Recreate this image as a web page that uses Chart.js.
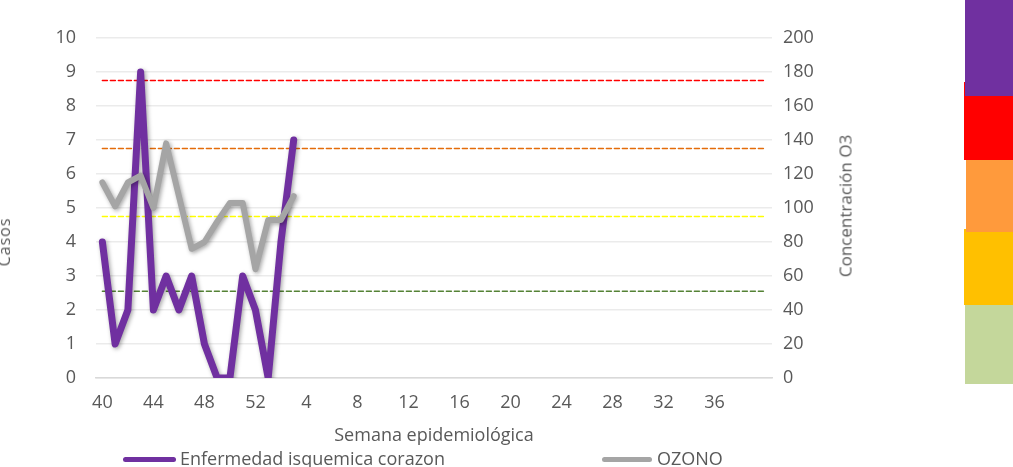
<!DOCTYPE html>
<html>
<head>
<meta charset="utf-8">
<script src="https://cdn.jsdelivr.net/npm/chart.js@4.4.1/dist/chart.umd.min.js"></script>
<style>
  html, body { margin: 0; padding: 0; background: #fff; }
  body { width: 1013px; height: 467px; overflow: hidden; position: relative; font-family: "Open Sans", sans-serif; color: #595959; }
  #wrap { position: absolute; left: -10px; top: 0; width: 870px; height: 447px; }
  .blk { position: absolute; }
  .leg { position: absolute; top: 448px; font-size: 18px; line-height: 20px; white-space: nowrap; }
  .sw { position: absolute; height: 5px; border-radius: 3px; }
  .vt { position: absolute; transform: translate(-50%, -50%) rotate(-90deg); white-space: nowrap; }
</style>
</head>
<body>
<div id="wrap"><canvas id="chart" width="870" height="447"></canvas></div>
<div class="vt" style="left:845px; top:206px; font-size:17px">Concentración O3</div>
<div class="vt" style="left:4px; top:242px; font-size:16px; letter-spacing:1px">Casos</div>

<div class="sw" style="left:123px; top:457px; width:53px; background:#7030A0"></div>
<div class="leg" style="left:180px">Enfermedad isquemica corazon</div>
<div class="sw" style="left:602px; top:457px; width:50px; background:#A5A5A5"></div>
<div class="leg" style="left:657px">OZONO</div>

<div class="blk" style="left:964px; top:229px; width:49px; height:76px; background:#FFC000"></div>
<div class="blk" style="left:966px; top:160px; width:47px; height:72px; background:#FF9A3C"></div>
<div class="blk" style="left:964px; top:82px; width:49px; height:78px; background:#FF0000"></div>
<div class="blk" style="left:965px; top:0px; width:48px; height:96px; background:#7030A0"></div>
<div class="blk" style="left:965px; top:305px; width:48px; height:79px; background:#C4D79B"></div>

<script>
// semanas epidemiologicas (40 a 52, luego 1 a 40)
const semanas = [40, 41, 42, 43, 44, 45, 46, 47, 48, 49, 50, 51, 52,
    1, 2, 3, 4, 5, 6, 7, 8, 9, 10, 11, 12, 13, 14, 15, 16, 17, 18, 19, 20,
    21, 22, 23, 24, 25, 26, 27, 28, 29, 30, 31, 32, 33, 34, 35, 36, 37, 38, 39, 40];

// casos por semana
const casos = [4, 1, 2, 9, 2, 3, 2, 3, 1, 0, 0, 3, 2, 0, 4, 7];

// concentracion de ozono
const ozono = [115, 101, 115, 119, 100, 138, 107, 76, 80, 92, 103, 103, 64, 93, 93, 107];

// umbrales de calidad del aire (eje O3)
const umbrales = [175, 135, 95, 51];
const coloresUmbral = ['#FF0000', '#E46C0A', '#FFFF00', '#548235'];

const shadowPlugin = {
    id: 'shadow',
    beforeDatasetDraw(chart, args) {
        if (args.index < 2) {
            const ctx = chart.ctx;
            ctx.save();
            ctx.shadowColor = 'rgba(0,0,0,0.35)';
            ctx.shadowBlur = 4;
            ctx.shadowOffsetX = 1.5;
            ctx.shadowOffsetY = 1.5;
        }
    },
    afterDatasetDraw(chart, args) {
        if (args.index < 2) {
            chart.ctx.restore();
        }
    }
};

const datasets = [
    {
        label: 'OZONO',
        data: ozono,
        yAxisID: 'y2',
        borderColor: '#A5A5A5',
        borderWidth: 6,
        order: 0
    },
    {
        label: 'Enfermedad isquemica corazon',
        data: casos,
        yAxisID: 'y',
        borderColor: '#7030A0',
        borderWidth: 7,
        order: 1
    }
];

umbrales.forEach((u, i) => {
    datasets.push({
        label: 'umbral ' + u,
        data: semanas.map(() => u),
        yAxisID: 'y2',
        borderColor: coloresUmbral[i],
        borderWidth: 1.5,
        borderDash: [5, 3],
        order: 2 + i
    });
});

const tickFont = { family: 'Open Sans', size: 18 };

new Chart(document.getElementById('chart').getContext('2d'), {
    type: 'line',
    data: {
        labels: semanas,
        datasets: datasets
    },
    options: {
        responsive: false,
        animation: false,
        devicePixelRatio: 1,
        layout: { padding: { top: 38, left: 0, right: 0, bottom: 0 } },
        elements: {
            point: { radius: 0 },
            line: { tension: 0, borderCapStyle: 'round', borderJoinStyle: 'round', fill: false }
        },
        plugins: {
            legend: { display: false },
            tooltip: { enabled: false }
        },
        scales: {
            x: {
                offset: true,
                grid: { display: false, drawTicks: false },
                border: { color: '#D9D9D9', width: 1.5 },
                ticks: {
                    autoSkip: false,
                    maxRotation: 0,
                    padding: 14,
                    color: '#595959',
                    font: tickFont,
                    callback: (v, i) => (i % 4 === 0 && i < 52) ? semanas[i] : ''
                },
                title: {
                    display: true,
                    text: 'Semana epidemiológica',
                    color: '#595959',
                    font: { family: 'Open Sans', size: 18 },
                    padding: { top: 2, bottom: 0 }
                },
                afterFit: s => { s.height = 69; }
            },
            y: {
                position: 'left',
                min: 0,
                max: 10,
                grid: { color: '#EBEBEB', lineWidth: 1.5, drawTicks: false },
                border: { display: false },
                ticks: { stepSize: 1, padding: 20, color: '#595959', font: tickFont },
                afterFit: s => { s.width = 106; }
            },
            y2: {
                position: 'right',
                min: 0,
                max: 200,
                grid: { display: false, drawTicks: false },
                border: { display: false },
                ticks: { stepSize: 20, padding: 11, color: '#595959', font: tickFont },
                afterFit: s => { s.width = 88; }
            }
        }
    },
    plugins: [shadowPlugin]
});
</script>
</body>
</html>
